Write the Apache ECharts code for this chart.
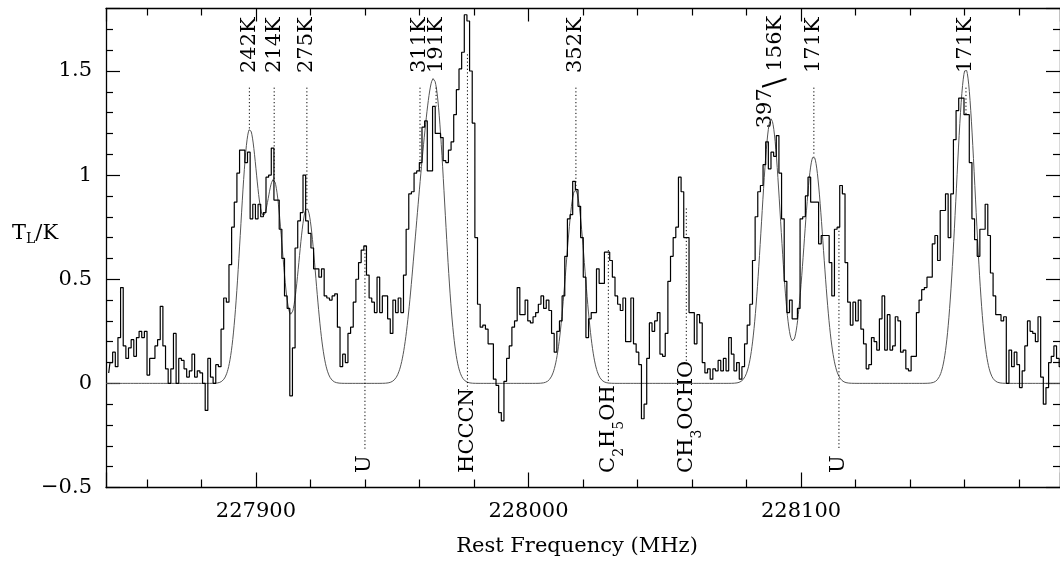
<!DOCTYPE html>
<html>
<head>
<meta charset="utf-8">
<script src="https://cdn.jsdelivr.net/npm/echarts@6/dist/echarts.min.js"></script>
<style>
  html, body { margin: 0; padding: 0; background: #fff; }
  #chart { width: 1060px; height: 561px; }
</style>
</head>
<body>
<div id="chart"></div>
<script>
// ---- spectrum: one brightness value per channel, starting at FREQ_START ----
const FREQ_START = 227845.5;   // MHz, low edge of first channel
const CHAN_WIDTH = 0.97;       // MHz per channel
const brightness = [
  0.05,0.10,0.15,0.08,0.22,0.46,0.18,0.12,0.17,0.21, 0.13,0.22,0.25,0.22,0.25,0.04,0.12,0.12,0.18,0.21,
  0.37,0.18,0.07,0.00,0.07,0.24,0.00,0.12,0.11,0.07, 0.03,0.06,0.14,0.03,0.06,0.05,0.00,-0.13,0.12,0.03,
  0.00,0.09,0.08,0.26,0.41,0.39,0.57,
  0.75,0.87,1.01,1.12,1.12,1.06,1.11,0.79,0.86,0.79, 0.86,0.80,0.82,0.99,1.00,1.13,0.88,0.88,0.74,0.60,
  0.42,0.36,-0.06,0.17,0.65,0.78,0.82,1.00,0.78,0.72, 0.65,0.55,0.55,0.51,0.55,0.42,0.41,0.40,0.42,0.43,
  0.27,0.08,0.14,0.10,0.24,0.27,0.39,0.50,0.58,0.64, 0.66,0.52,0.41,0.39,0.34,0.51,0.34,0.42,0.42,0.31,
  0.24,0.40,0.34,0.41,0.34,
  0.52,0.74,0.91,0.92,1.01,1.02,1.06,1.23,1.26,1.02, 1.02,1.33,1.20,1.20,1.18,1.07,1.06,1.12,1.16,1.29,
  1.41,1.51,1.59,1.77,1.74,1.50,1.25,0.70,
  0.38,0.27,0.28,0.26,0.19,0.19,0.02,-0.01,-0.14,-0.18, 0.01,0.12,0.18,0.27,0.30,0.46,0.33,0.33,0.40,0.30,
  0.29,0.32,0.34,0.38,0.42,0.36,0.40,0.35,0.24,0.15, 0.25,0.30,0.42,0.61,0.79,0.81,0.97,0.93,0.85,0.70,
  0.51,
  0.22,0.31,0.34,0.34,0.55,0.48,0.48,0.63,0.63,0.59, 0.51,0.42,0.38,0.35,0.41,0.20,0.20,0.41,0.19,0.15,
  0.09,-0.17,-0.10,0.12,0.29,0.25,0.30,0.34,0.14,0.13, 0.24,0.49,0.61,0.70,0.75,0.99,0.92,0.70,0.70,0.34,
  0.34,0.19,0.33,0.29,0.10,0.05,0.07,0.02,0.07,0.06, 0.11,0.06,0.12,0.06,0.22,0.14,0.06,0.10,0.02,0.08,
  0.19,0.28,0.38,0.59,0.80,0.92,0.95,1.05,1.16,1.03, 1.11,1.09,1.19,1.01,0.79,0.49,0.34,0.40,0.31,0.31,
  0.36,0.79,0.80,0.90,0.99,0.87,0.87,0.87,0.67,0.71, 0.71,0.71,0.58,0.42,0.74,0.75,0.95,0.91,0.58,0.39,
  0.28,0.39,0.30,0.40,0.26,0.19,0.07,0.09,0.22,0.20, 0.16,0.31,0.42,0.16,0.33,0.16,0.18,0.32,0.30,0.15,
  0.16,0.07,0.06,0.13,0.13,0.34,0.40,0.45,0.46,0.51, 0.51,0.67,0.71,0.59,0.83,0.83,0.91,0.70,0.91,1.17,
  1.31,1.37,1.37,1.29,1.29,1.06,0.79,0.69,0.61,0.74, 0.74,0.86,0.71,0.53,0.42,0.33,0.33,0.30,0.32,0.00,
  0.16,0.08,0.15,0.09,-0.02,0.06,0.18,0.30,0.25,0.24, 0.20,0.32,0.03,-0.10,-0.02,0.10,0.13,
  0.18,0.12,0.08
];

// ---- Gaussian line model: centre (MHz), peak (K), FWHM (MHz) ----
const modelFreq = [227897.6, 227906.7, 227918.7, 227960.2, 227966.1, 228017.2, 228089.0, 228104.6, 228160.4];
const modelPeak = [1.20, 0.95, 0.84, 0.66, 1.27, 0.93, 1.27, 1.09, 1.51];
const modelFwhm = [7.7, 7.7, 7.7, 8.2, 8.2, 8.0, 8.3, 8.3, 8.2];

// ---- axis ranges ----
const X_MIN = 227845, X_MAX = 228195;
const Y_MIN = -0.5, Y_MAX = 1.8;

// ---- transitions marked above the spectrum ----
const upperText   = ['242K', '214K', '275K', '311K', '191K', '352K', '171K', '171K'];
const upperFreq   = [227897.6, 227906.7, 227918.7, 227960.2, 227966.1, 228017.4, 228104.7, 228160.5];
const upperTickTo = [1.22, 0.98, 0.85, 1.01, 1.33, 0.93, 1.09, 1.29];
const UPPER_TICK_FROM = 1.42;
const UPPER_TEXT_BASE = 1.49;

// blended pair of temperatures on the 228089 MHz line (separator leads the second part)
const pairFreq = [228087.1, 228090.8];
const pairText = ['397', '{sep|\\}156K'];
const pairBase = [1.225, 1.42];

// ---- species marked below the spectrum ----
const lowerText   = ['U', 'HCCCN', 'C{s|2}H{s|5}OH', 'CH{s|3}OCHO', 'U'];
const lowerFreq   = [227940.0, 227977.6, 228029.3, 228057.9, 228113.9];
const lowerTickHi = [0.66, 1.58, 0.64, 0.84, 0.75];
const lowerTickLo = [-0.32, -0.03, 0.00, 0.10, -0.32];
const LOWER_TEXT_BASE = -0.43;

const FONT = 'DejaVu Serif';
const FS = 21;

// spectrum as channel-centred points for a stepped line
const spectrum = brightness.map((v, i) => [FREQ_START + (i + 0.5) * CHAN_WIDTH, v]);

// model profile sampled finely over the axis range
const model = [];
for (let f = X_MIN; f <= X_MAX + 1e-9; f += 0.25) {
  let t = 0;
  for (let k = 0; k < modelFreq.length; k++) {
    const s = modelFwhm[k] / 2.3548;
    const d = (f - modelFreq[k]) / s;
    t += modelPeak[k] * Math.exp(-0.5 * d * d);
  }
  model.push([f, t]);
}

const chart = echarts.init(document.getElementById('chart'), null, { renderer: 'canvas' });

const lineStyleAxis = { color: '#000', width: 1.3 };
function xAxisDef(pos, showLabels, tickLen, minorLen) {
  return {
    type: 'value', position: pos, min: X_MIN, max: X_MAX, splitNumber: 4,
    axisLine: { show: true, onZero: false, lineStyle: lineStyleAxis },
    axisTick: { show: true, inside: true, length: tickLen, lineStyle: { color: '#000', width: 1.2 } },
    minorTick: { show: true, splitNumber: 5, length: minorLen, lineStyle: { color: '#000', width: 1.2 } },
    axisLabel: {
      show: showLabels, margin: 14, color: '#000', fontFamily: FONT, fontSize: FS,
      showMinLabel: false, showMaxLabel: false,
      formatter: v => String(Math.round(v))
    },
    splitLine: { show: false }, minorSplitLine: { show: false }
  };
}
function yAxisDef(pos, showLabels) {
  return {
    type: 'value', position: pos, min: Y_MIN, max: Y_MAX, interval: 0.5,
    axisLine: { show: true, onZero: false, lineStyle: lineStyleAxis },
    axisTick: { show: true, inside: true, length: 14, lineStyle: { color: '#000', width: 1.2 } },
    minorTick: { show: true, splitNumber: 5, length: 7, lineStyle: { color: '#000', width: 1.2 } },
    axisLabel: {
      show: showLabels, margin: 14, color: '#000', fontFamily: FONT, fontSize: FS,
      showMaxLabel: false,
      formatter: v => (v < 0 ? '\u2212' + String(-v) : String(v))
    },
    splitLine: { show: false }, minorSplitLine: { show: false }
  };
}

const series = [
  {
    name: 'model', type: 'line', data: model, showSymbol: false, symbol: 'none',
    lineStyle: { color: '#555', width: 1 }, silent: true, z: 2, clip: true
  },
  {
    name: 'spectrum', type: 'line', step: 'middle', data: spectrum, showSymbol: false, symbol: 'none',
    lineStyle: { color: '#000', width: 1.2 }, silent: true, z: 3, clip: true
  }
];

const dotted = { color: '#000', width: 1, type: [1.2, 2.4] };
upperFreq.forEach((f, i) => {
  series.push({
    type: 'line', data: [[f, UPPER_TICK_FROM], [f, upperTickTo[i]]], symbol: 'none',
    lineStyle: dotted, silent: true, z: 4
  });
});
lowerFreq.forEach((f, i) => {
  series.push({
    type: 'line', data: [[f, lowerTickHi[i]], [f, lowerTickLo[i]]], symbol: 'none',
    lineStyle: dotted, silent: true, z: 4
  });
});

chart.setOption({
  animation: false,
  backgroundColor: '#fff',
  textStyle: { fontFamily: FONT },
  grid: { left: 106, top: 8.5, width: 962.5, height: 479, containLabel: false },
  xAxis: [xAxisDef('bottom', true, 15, 8), xAxisDef('top', false, 13, 7)],
  yAxis: [yAxisDef('left', true), yAxisDef('right', false)],
  series: series
});

// ---- text annotations placed through the axis scales ----
const toPx = (f, t) => chart.convertToPixel({ xAxisIndex: 0, yAxisIndex: 0 }, [f, t]);
const labelRich = {
  s: { fontFamily: FONT, fontSize: 14, lineHeight: 14, verticalAlign: 'bottom', fill: '#000' },
  sep: { fontFamily: FONT, fontSize: 30, fill: '#000', padding: [0, 6, 0, 0] }
};

function risingText(text, f, base, lineHeight) {
  const p = toPx(f, base);
  const style = {
    text: text, x: 0, y: 0, align: 'left', verticalAlign: 'middle',
    font: FS + 'px "' + FONT + '"', fill: '#000', rich: labelRich
  };
  if (lineHeight) style.lineHeight = lineHeight;
  return { type: 'text', x: p[0], y: p[1], rotation: Math.PI / 2, silent: true, style: style };
}

const graphics = [];
upperText.forEach((t, i) => graphics.push(risingText(t, upperFreq[i], UPPER_TEXT_BASE)));
pairText.forEach((t, i) => graphics.push(risingText(t, pairFreq[i], pairBase[i])));
lowerText.forEach((t, i) => graphics.push(risingText(t, lowerFreq[i], LOWER_TEXT_BASE, 36)));

// axis titles
graphics.push({
  type: 'text', x: 12, y: 233.5, silent: true,
  style: {
    text: 'T{s|L}/K', x: 0, y: 0, align: 'left', verticalAlign: 'middle',
    font: FS + 'px "' + FONT + '"', fill: '#000', lineHeight: 26,
    rich: { s: { fontFamily: FONT, fontSize: 14, lineHeight: 14, verticalAlign: 'bottom', fill: '#000' } }
  }
});
graphics.push({
  type: 'text', x: 577, y: 547, silent: true,
  style: {
    text: 'Rest Frequency (MHz)', x: 0, y: 0, align: 'center', verticalAlign: 'middle',
    font: FS + 'px "' + FONT + '"', fill: '#000'
  }
});

chart.setOption({ graphic: graphics });
</script>
</body>
</html>
